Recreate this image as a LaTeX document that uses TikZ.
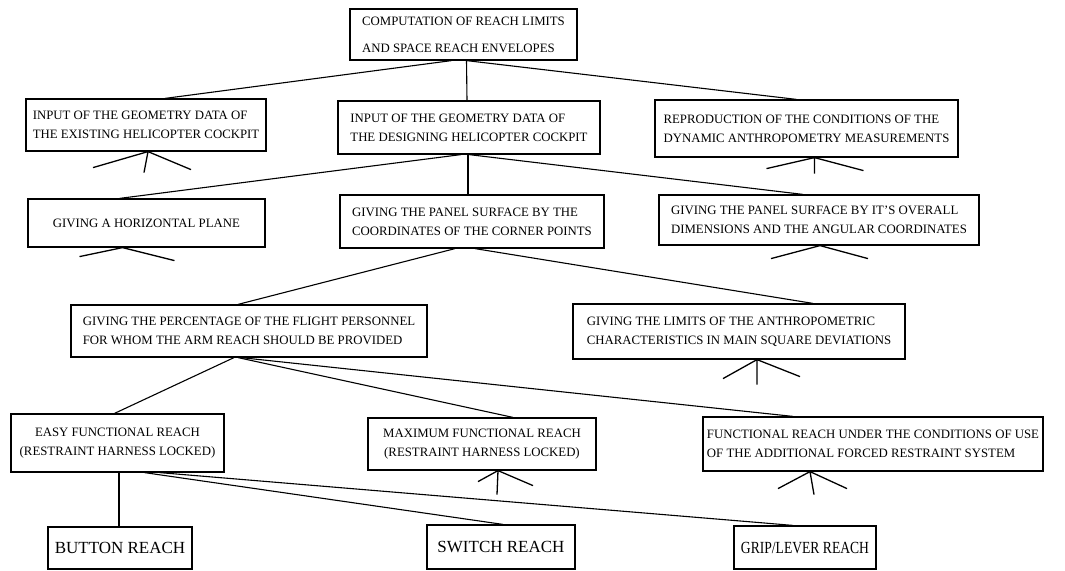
\documentclass[tikz,border=0pt]{standalone}
\usepackage{fontspec}
\setmainfont{Liberation Serif}
\usetikzlibrary{calc}
\begin{document}
\begin{tikzpicture}[x=1pt,y=-1pt,
  box/.style={draw,line width=1.2pt,inner sep=1pt,align=left,font=\fontsize{12.8}{19}\selectfont},
  cbox/.style={box,align=center},
  bigbox/.style={box,font=\fontsize{17}{19}\selectfont},
  conn/.style={line width=1.1pt},
  stub/.style={line width=1.3pt}]
\useasboundingbox (0,0) rectangle (1065,570);
\newcommand\bx[7][box]{\pgfmathsetmacro\cxx{(#3+#5)/2}\pgfmathsetmacro\cyy{(#4+#6)/2}%
  \pgfmathsetmacro\ww{#5-#3}\pgfmathsetmacro\hh{#6-#4}%
  \node[#1,minimum width=\ww pt,minimum height=\hh pt] (#2) at (\cxx,\cyy) {#7};}
\bx{top}{350}{9}{577}{60}{COMPUTATION OF REACH LIMITS\\[8pt]AND SPACE REACH ENVELOPES}
\bx{exist}{26}{99}{266}{151}{INPUT OF THE GEOMETRY DATA OF\\THE EXISTING HELICOPTER COCKPIT}
\bx{desig}{338}{101}{600}{154}{INPUT OF THE GEOMETRY DATA OF\\THE DESIGNING HELICOPTER COCKPIT}
\bx{repro}{655}{100}{958}{157}{REPRODUCTION OF THE CONDITIONS OF THE\\DYNAMIC ANTHROPOMETRY MEASUREMENTS}
\bx{horiz}{28}{199}{265}{247}{GIVING A HORIZONTAL PLANE}
\bx{corner}{340}{195}{604}{248}{GIVING THE PANEL SURFACE BY THE\\COORDINATES OF THE CORNER POINTS}
\bx{overall}{659}{195}{979}{245}{GIVING THE PANEL SURFACE BY IT'S OVERALL\\DIMENSIONS AND THE ANGULAR COORDINATES}
\bx{percent}{71}{305}{427}{357}{GIVING THE PERCENTAGE OF THE FLIGHT PERSONNEL\\FOR WHOM THE ARM REACH SHOULD BE PROVIDED}
\bx{limits}{573}{304}{905}{359}{GIVING THE LIMITS OF THE ANTHROPOMETRIC\\CHARACTERISTICS IN MAIN SQUARE DEVIATIONS}
\bx[cbox]{easy}{11}{414}{224}{472}{EASY FUNCTIONAL REACH\\(RESTRAINT HARNESS LOCKED)}
\bx[cbox]{maxim}{368}{418}{596}{470}{MAXIMUM FUNCTIONAL REACH\\(RESTRAINT HARNESS LOCKED)}
\bx{func}{703}{417}{1043}{471}{FUNCTIONAL REACH UNDER THE CONDITIONS OF USE\\OF THE ADDITIONAL FORCED RESTRAINT SYSTEM}
\bx[bigbox]{button}{48}{527}{192}{569}{BUTTON REACH}
\bx[bigbox]{switch}{427}{525}{575}{569}{SWITCH REACH}
\bx[bigbox]{grip}{734}{526}{876}{569}{\scalebox{0.8}[1]{GRIP/LEVER REACH}}
% connectors
\draw[conn] ([xshift=-12pt]top.south) -- ([xshift=19pt]exist.north);
\draw[conn] ([xshift=3pt]top.south) -- ([xshift=-2pt]desig.north);
\draw[conn] ([xshift=3pt]top.south) -- ([xshift=-10pt]repro.north);
\draw[conn] ([xshift=-8pt]desig.south) -- ([xshift=-27pt]horiz.north);
\draw[conn] ([xshift=-1pt]desig.south) -- ([xshift=-4pt]corner.north);
\draw[conn] ([xshift=0pt]desig.south) -- ([xshift=-16pt]overall.north);
\draw[conn] ([xshift=-17pt]corner.south) -- ([xshift=-11pt]percent.north);
\draw[conn] ([xshift=3pt]corner.south) -- ([xshift=74pt]limits.north);
\draw[conn] ([xshift=-15pt]percent.south) -- ([xshift=-3pt]easy.north);
\draw[conn] ([xshift=-11pt]percent.south) -- ([xshift=31pt]maxim.north);
\draw[conn] ([xshift=-8pt]percent.south) -- ([xshift=-80pt]func.north);
\draw[conn] ([xshift=1.5pt]easy.south) -- ([xshift=-1pt]button.north);
\draw[conn] ([xshift=27pt]easy.south) -- ([xshift=2pt]switch.north);
\draw[conn] ([xshift=42pt]easy.south) -- ([xshift=-12pt]grip.north);
% stubs
\draw[stub] ([xshift=2pt]exist.south) -- ++(-55,16) ([xshift=2pt]exist.south) -- ++(43,18) ([xshift=2pt]exist.south) -- ++(-4,21);
\draw[stub] ([xshift=8pt]repro.south) -- ++(-48,11) ([xshift=8pt]repro.south) -- ++(49,13) ([xshift=8pt]repro.south) -- ++(0,16);
\draw[stub] ([xshift=-24pt]horiz.south) -- ++(-43,9) ([xshift=-24pt]horiz.south) -- ++(52,13);
\draw[stub] ([xshift=1pt]overall.south) -- ++(-49,13) ([xshift=1pt]overall.south) -- ++(48,13);
\draw[stub] ([xshift=18pt]limits.south) -- ++(-34,19) ([xshift=18pt]limits.south) -- ++(43,17) ([xshift=18pt]limits.south) -- ++(0,25);
\draw[stub] ([xshift=16pt]maxim.south) -- ++(-20,11) ([xshift=16pt]maxim.south) -- ++(35,15) ([xshift=16pt]maxim.south) -- ++(-1,24);
\draw[stub] ([xshift=-63pt]func.south) -- ++(-32,17) ([xshift=-63pt]func.south) -- ++(37,17) ([xshift=-63pt]func.south) -- ++(4,23);
\end{tikzpicture}
\end{document}
